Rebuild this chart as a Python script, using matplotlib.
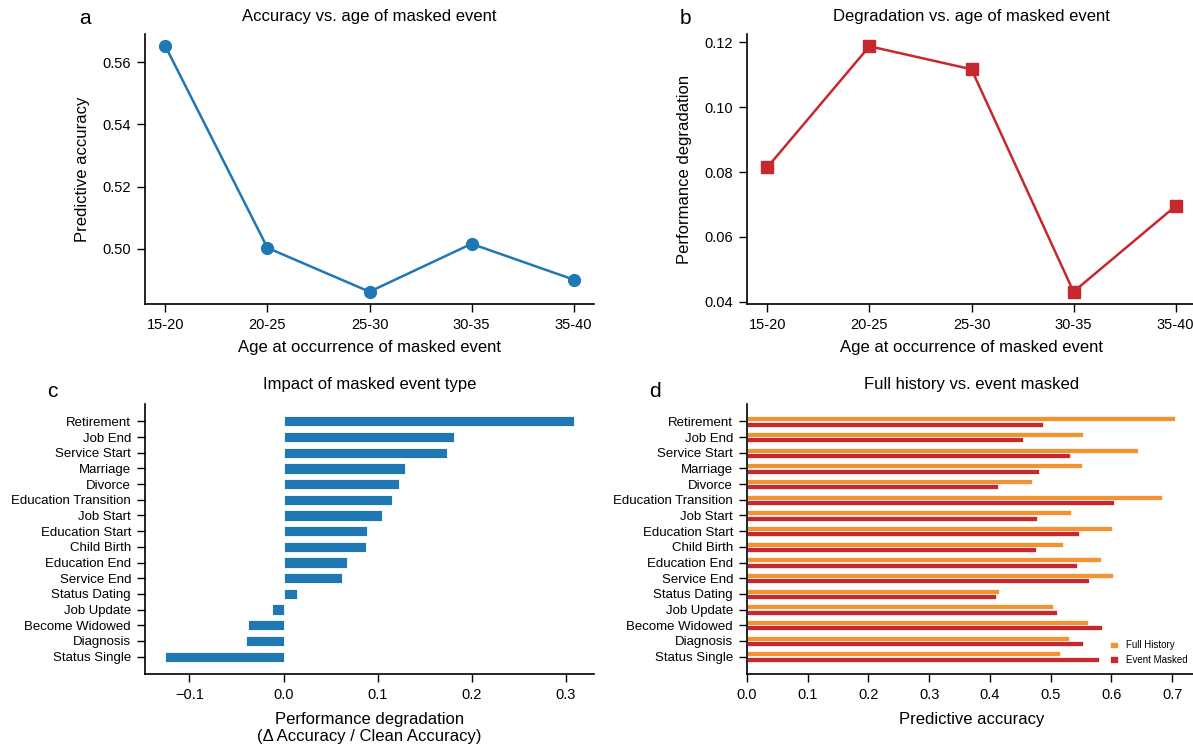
import numpy as np
import matplotlib.pyplot as plt

plt.rcParams['font.family'] = ['Liberation Sans', 'DejaVu Sans']
plt.rcParams['axes.linewidth'] = 1.2
plt.rcParams['xtick.major.width'] = 1.0
plt.rcParams['ytick.major.width'] = 1.0
plt.rcParams['xtick.major.size'] = 5.5
plt.rcParams['ytick.major.size'] = 5.5
plt.rcParams['xtick.major.pad'] = 4.5
plt.rcParams['ytick.major.pad'] = 4.5

# age groups (panels a, b)
age_groups = ["15-20", "20-25", "25-30", "30-35", "35-40"]
age_accuracy = [0.5651, 0.5003, 0.4862, 0.5016, 0.4901]
age_degradation = [0.0815, 0.1188, 0.1117, 0.0431, 0.0695]

# event types (panels c, d)
event_types = ["Retirement", "Job End", "Service Start", "Marriage", "Divorce",
               "Education Transition", "Job Start", "Education Start", "Child Birth",
               "Education End", "Service End", "Status Dating", "Job Update",
               "Become Widowed", "Diagnosis", "Status Single"]
event_degradation = [0.308, 0.1805, 0.174, 0.129, 0.123, 0.115, 0.105, 0.089, 0.088,
                     0.067, 0.0625, 0.014, -0.012, -0.038, -0.040, -0.1255]
full_history = [0.704, 0.553, 0.644, 0.551, 0.470, 0.684, 0.533, 0.601, 0.521,
                0.583, 0.602, 0.415, 0.504, 0.562, 0.530, 0.516]
event_masked = [0.488, 0.454, 0.532, 0.480, 0.4125, 0.605, 0.477, 0.547, 0.476,
                0.543, 0.563, 0.410, 0.511, 0.585, 0.553, 0.580]

blue = "#1f77b4"
red = "#c6282e"
orange = "#f39230"

W, H = 1193, 750
fig = plt.figure(figsize=(W / 100, H / 100), dpi=100)

def box(l, t, r, b):
    return [l / W, 1 - b / H, (r - l) / W, (b - t) / H]

ax_a = fig.add_axes(box(145, 34, 594, 304))
ax_b = fig.add_axes(box(747, 34, 1196, 304))
ax_c = fig.add_axes(box(145, 404, 594, 674))
ax_d = fig.add_axes(box(747, 404, 1196, 674))

for ax in (ax_a, ax_b, ax_c, ax_d):
    ax.spines['top'].set_visible(False)
    ax.spines['right'].set_visible(False)
    ax.tick_params(labelsize=10.5)

# a
x = np.arange(len(age_groups))
ax_a.plot(x, age_accuracy, color=blue, lw=1.8, marker='o', markersize=8.5)
ax_a.set_xticks(x)
ax_a.set_xticklabels(age_groups)
ax_a.set_yticks([0.50, 0.52, 0.54, 0.56])
ax_a.set_title("Accuracy vs. age of masked event", fontsize=12, pad=9)
ax_a.set_xlabel("Age at occurrence of masked event", fontsize=12, labelpad=5.5)
ax_a.set_ylabel("Predictive accuracy", fontsize=12, labelpad=9)

# b
ax_b.plot(x, age_degradation, color=red, lw=1.8, marker='s', markersize=8)
ax_b.set_xticks(x)
ax_b.set_xticklabels(age_groups)
ax_b.set_yticks([0.04, 0.06, 0.08, 0.10, 0.12])
ax_b.set_title("Degradation vs. age of masked event", fontsize=12, pad=9)
ax_b.set_xlabel("Age at occurrence of masked event", fontsize=12, labelpad=5.5)
ax_b.set_ylabel("Performance degradation", fontsize=12, labelpad=9)

# c
y = np.arange(len(event_types))
ax_c.barh(y, event_degradation, height=0.65, color=blue, edgecolor='white', linewidth=0.6)
ax_c.set_yticks(y)
ax_c.set_yticklabels(event_types, fontsize=9.5)
ax_c.invert_yaxis()
ax_c.set_xticks([-0.1, 0.0, 0.1, 0.2, 0.3])
ax_c.set_title("Impact of masked event type", fontsize=12, pad=10.5)
ax_c.set_xlabel("Performance degradation\n(\u0394 Accuracy / Clean Accuracy)",
                fontsize=12, labelpad=7)

# d
ax_d.barh(y - 0.17, full_history, height=0.32, color=orange, edgecolor='white',
          linewidth=0.5, label="Full History")
ax_d.barh(y + 0.17, event_masked, height=0.32, color=red, edgecolor='white',
          linewidth=0.5, label="Event Masked")
ax_d.set_yticks(y)
ax_d.set_yticklabels(event_types, fontsize=9.5)
ax_d.invert_yaxis()
ax_d.set_xticks(np.arange(0, 0.71, 0.1))
ax_d.set_title("Full history vs. event masked", fontsize=12, pad=10.5)
ax_d.set_xlabel("Predictive accuracy", fontsize=12, labelpad=7)
ax_d.legend(loc='lower right', frameon=False, fontsize=7, handlelength=0.8,
            handleheight=0.7)

for label, (px, py) in zip("abcd", [(85, 18), (685, 18), (52, 392), (655, 392)]):
    fig.text(px / W, 1 - py / H, label, fontsize=15, ha='center', va='center')

fig.savefig("out.png", dpi=100)
